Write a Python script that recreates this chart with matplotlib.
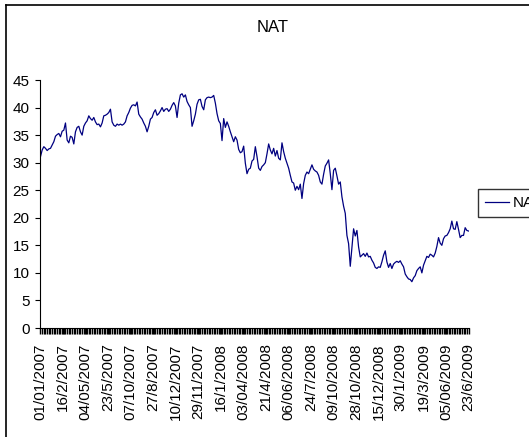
import numpy as np
import matplotlib
matplotlib.use("Agg")
import matplotlib.pyplot as plt
from matplotlib.lines import Line2D

# category labels as shown on the x axis
date_labels = ["01/01/2007", "16/2/2007", "04/05/2007", "23/5/2007", "07/10/2007",
               "27/8/2007", "10/12/2007", "29/11/2007", "16/1/2008", "03/04/2008",
               "21/4/2008", "06/06/2008", "24/7/2008", "09/10/2008", "28/10/2008",
               "15/12/2008", "30/1/2009", "19/3/2009", "05/06/2009", "23/6/2009"]

# NAT closing price
nat_2007a = [31.1, 32.3, 32.9, 32.6, 32.2, 32.5, 32.6, 33.2, 33.8, 34.8,
             35.1, 35.3, 34.7, 35.7, 35.9, 37.2, 34.1, 33.6, 34.8, 34.6,
             33.4, 35.6, 36.4, 36.6, 35.6, 35.0, 36.6, 37.2, 37.6, 38.5,
             38.0, 37.7, 38.2, 37.4, 36.9, 37.0, 36.5, 37.2, 38.5, 38.6,
             38.8, 39.1, 39.7, 37.4, 36.8, 36.6, 37.0, 36.8, 37.0, 36.8,
             37.0, 37.4, 38.5, 39.1, 39.9, 40.4, 40.5, 40.3, 41.0, 38.8]
nat_2007b = [38.3, 37.9, 37.2, 36.6, 35.6, 36.6, 37.9, 38.2, 39.1, 39.6,
             38.6, 38.9, 39.4, 40.0, 39.3, 39.7, 39.8, 39.3, 39.7, 40.4,
             40.9, 40.3, 38.2, 40.8, 42.3, 42.5, 41.9, 42.3, 41.1, 40.5,
             40.0, 36.6, 37.6, 38.8, 40.6, 41.4, 41.5, 40.2, 39.6, 41.4,
             41.8, 41.9, 41.8, 41.9, 42.2, 40.8, 38.9, 37.6, 37.1, 34.0]
nat_2008a = [38.0, 36.4, 37.4, 36.6, 35.6, 34.7, 33.8, 34.7, 34.1, 32.4,
             31.8, 32.0, 33.0, 29.9, 28.0, 28.8, 29.0, 30.3, 30.6, 32.9,
             31.1, 29.0, 28.6, 29.3, 29.6, 30.0, 31.6, 33.4, 32.3, 31.6,
             32.6, 31.2, 32.2, 30.8, 30.5, 33.6, 32.0, 30.8, 29.9, 29.0,
             27.7, 26.5, 26.3, 25.0, 25.7, 25.1, 26.1, 23.5, 26.2, 27.7,
             28.3, 28.0, 28.8, 29.6, 28.8, 28.5, 28.3, 27.7, 26.5, 26.1,
             27.9, 29.4, 29.9, 30.5, 28.0, 25.1, 28.6, 29.0, 27.6, 26.1,
             26.5, 23.8, 22.1, 20.8, 16.8, 15.3, 11.2, 14.7, 18.0, 16.7]
nat_2008b = [17.7, 14.7, 12.9, 13.2, 13.5, 13.0, 13.6, 12.9, 13.0, 12.3,
             11.8, 11.0, 10.8, 11.1, 11.0, 12.0, 13.2, 14.0, 12.0, 11.0,
             11.7, 10.8, 11.6, 11.9, 12.1, 11.9, 12.2, 11.6, 11.1, 9.8,
             9.3, 8.9, 8.8, 8.4, 9.1, 9.5, 10.4, 10.8, 11.1, 10.0,
             11.4, 12.2, 13.0, 12.8, 13.4, 13.2, 12.9, 13.6, 14.8, 16.4,
             15.4, 15.0, 16.2, 16.7, 16.8, 17.3, 18.0, 19.4, 18.0, 17.9,
             19.3, 17.9, 16.4, 16.8, 16.8, 18.2, 17.7, 17.6]
nat = np.array(nat_2007a + nat_2007b + nat_2008a + nat_2008b)

n = len(nat)
x = np.arange(n)
label_pos = np.linspace(0, n - 1, len(date_labels))

narrow = ["Liberation Sans Narrow", "Liberation Sans", "DejaVu Sans"]
regular = ["Liberation Sans", "DejaVu Sans"]

fig = plt.figure(figsize=(5.29, 4.37), dpi=100)
ax = fig.add_axes([40 / 529, 109 / 437, 429 / 529, 248 / 437])

ax.plot(x, nat, color="#000080", lw=0.9, label="NAT")

ax.set_xlim(-0.3, n - 0.7)
ax.set_ylim(0, 45)
ax.set_yticks(np.arange(0, 46, 5))
for lab in ax.get_yticklabels():
    lab.set_family(narrow)
    lab.set_fontsize(11)

ax.set_xticks(label_pos)
ax.set_xticklabels(date_labels, rotation=90, family=regular, fontsize=11)
ax.set_xticks(x, minor=True)
ax.tick_params(axis="x", which="both", length=4, width=1.0, direction="out",
               color="black", pad=7)
ax.tick_params(axis="y", length=3.5, width=0.8, pad=4)

for s in ["top", "right"]:
    ax.spines[s].set_visible(False)
for s in ["left", "bottom"]:
    ax.spines[s].set_color("black")
    ax.spines[s].set_linewidth(0.8)

fig.text(273 / 529, 1 - 28 / 437, "NAT", ha="center", va="center",
         family=narrow, fontsize=12)

leg = fig.legend(loc="center left", bbox_to_anchor=(478 / 529, 1 - 203 / 437),
                 frameon=True, fancybox=False, edgecolor="black",
                 prop={"family": narrow, "size": 11}, handlelength=1.6,
                 handletextpad=0.2, borderpad=0.45, borderaxespad=0)
leg.get_frame().set_linewidth(1.0)

# chart area border (only the left and top edges are inside the picture)
fig.add_artist(Line2D([6 / 529, 6 / 529], [0, 1 - 5 / 437], transform=fig.transFigure,
                      color="black", lw=1.2))
fig.add_artist(Line2D([6 / 529, 1], [1 - 5 / 437, 1 - 5 / 437], transform=fig.transFigure,
                      color="black", lw=1.2))

fig.savefig("out.png", dpi=100)
